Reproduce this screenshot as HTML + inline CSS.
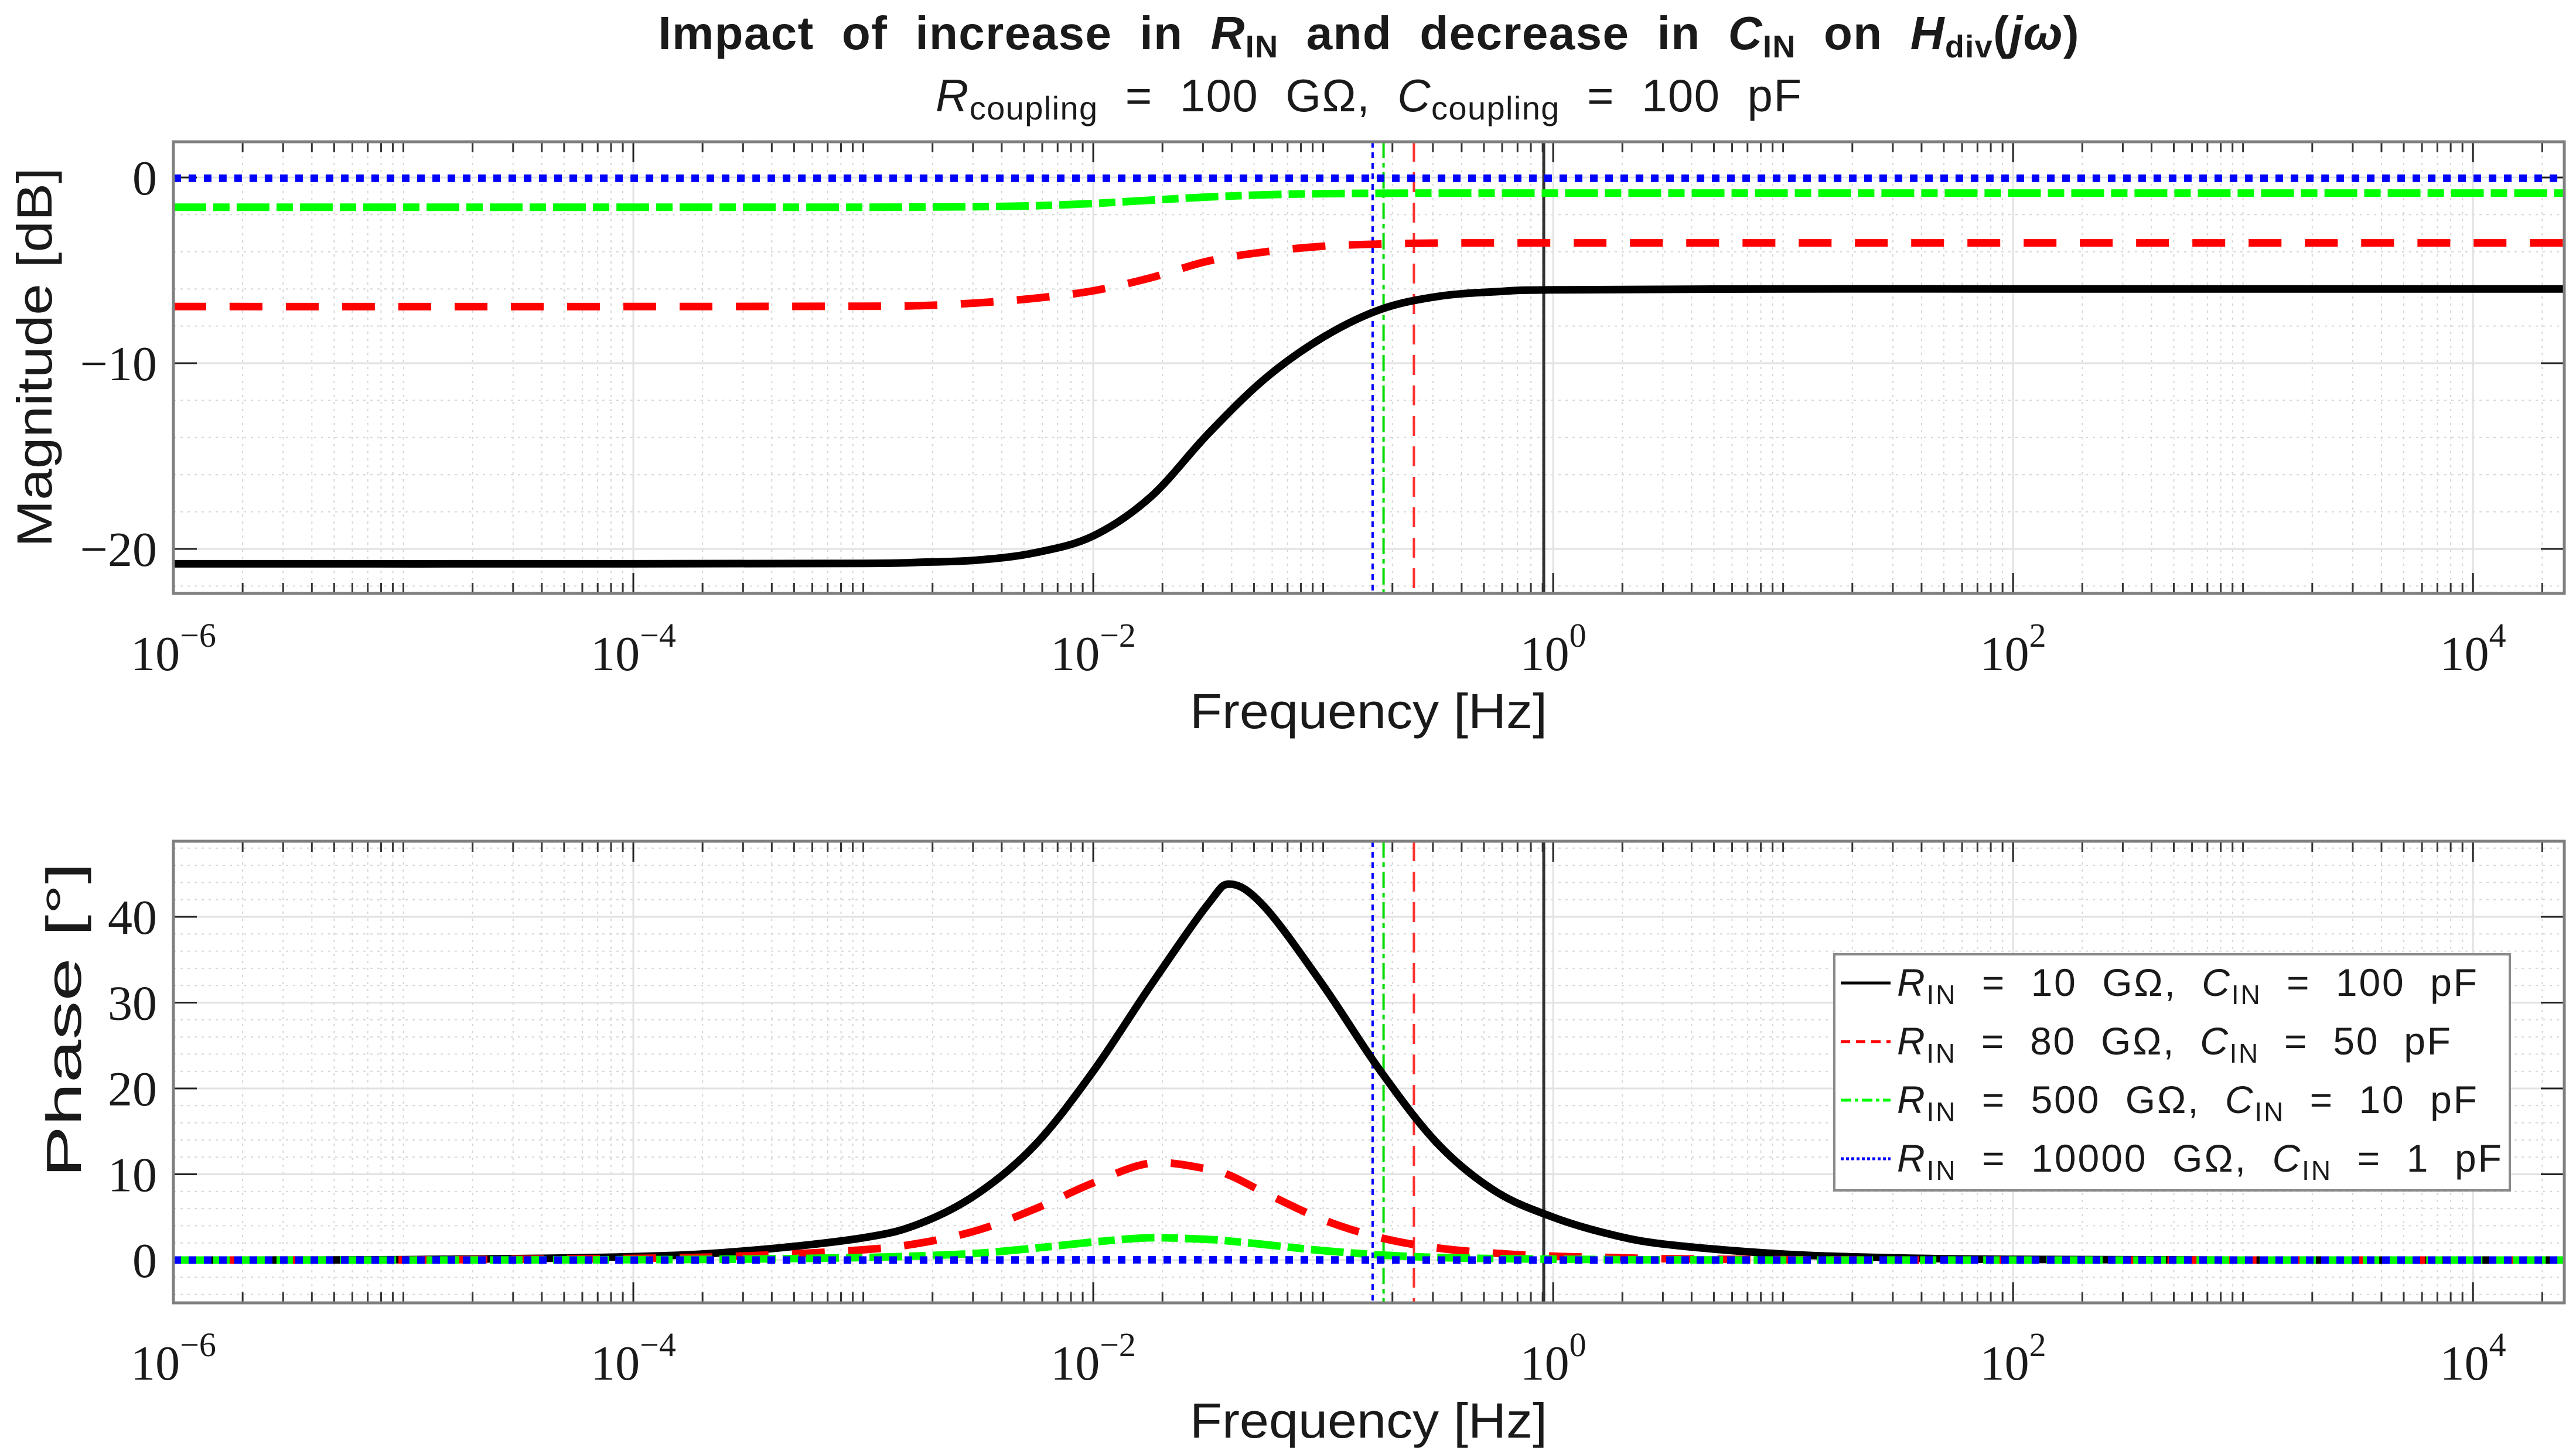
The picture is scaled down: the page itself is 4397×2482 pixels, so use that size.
<!DOCTYPE html>
<html><head><meta charset="utf-8"><style>
html,body{margin:0;padding:0;background:#fff;}
svg{display:block;}
.tick{font-family:"Liberation Serif",serif;font-size:84px;fill:#1a1a1a;}
.lab{font-family:"Liberation Sans",sans-serif;font-size:84px;fill:#1a1a1a;}
.leg{font-family:"Liberation Sans",sans-serif;font-size:66px;fill:#1a1a1a;white-space:pre;}
.pre{white-space:pre;}
</style></head><body>
<svg id="chart" xmlns="http://www.w3.org/2000/svg" width="4397" height="2482" viewBox="0 0 4397 2482">
<rect width="4397" height="2482" fill="#fff"/>
<text class="pre" x="2336" y="84" text-anchor="middle" font-family="Liberation Sans, sans-serif" font-weight="bold" font-size="80" fill="#1a1a1a" textLength="2425" lengthAdjust="spacing">Impact  of  increase  in  <tspan font-style="italic">R</tspan><tspan font-size="54" dy="14">IN</tspan><tspan dy="-14">  and  decrease  in  </tspan><tspan font-style="italic">C</tspan><tspan font-size="54" dy="14">IN</tspan><tspan dy="-14">  on  </tspan><tspan font-style="italic">H</tspan><tspan font-size="54" dy="14">div</tspan><tspan dy="-14">(</tspan><tspan font-style="italic">jω</tspan>)</text>
<text class="pre" x="2336" y="190" text-anchor="middle" font-family="Liberation Sans, sans-serif" font-size="78" fill="#1a1a1a" textLength="1478" lengthAdjust="spacing"><tspan font-style="italic">R</tspan><tspan font-size="56" dy="14">coupling</tspan><tspan dy="-14">  =  100  GΩ,  </tspan><tspan font-style="italic">C</tspan><tspan font-size="56" dy="14">coupling</tspan><tspan dy="-14">  =  100  pF</tspan></text>
<g id="topg"></g>
<g id="botg"></g>
</svg>
<script>
// ---- data ----
const xMinExp = -6, xMaxExp = 4.397;
const xTickExps = [-6, -4, -2, 0, 2, 4];
const magTicks = [0, -10, -20];
const phaseTicks = [0, 10, 20, 30, 40];
const magExp = [-6, -4, -3, -2.75, -2.5, -2.25, -2, -1.75, -1.5, -1.25, -1, -0.75, -0.5, -0.25, 0, 1, 2, 4.4];
const magBlack = [-20.8, -20.8, -20.78, -20.72, -20.6, -20.2, -19.3, -17.2, -13.8, -10.8, -8.6, -7.1, -6.4, -6.15, -6.05, -6.0, -6.0, -6.0];
const magRed = [-6.95, -6.95, -6.93, -6.9, -6.75, -6.5, -6.1, -5.4, -4.5, -4.0, -3.7, -3.58, -3.53, -3.52, -3.52, -3.52, -3.52, -3.52];
const magGreen = [-1.6, -1.6, -1.6, -1.59, -1.57, -1.52, -1.4, -1.22, -1.05, -0.93, -0.87, -0.85, -0.84, -0.84, -0.84, -0.84, -0.84, -0.84];
const magBlue = [-0.04, -0.04, -0.04, -0.04, -0.04, -0.04, -0.04, -0.04, -0.04, -0.04, -0.04, -0.04, -0.04, -0.04, -0.04, -0.04, -0.04, -0.04];
const phExp = [-6, -5, -4, -3.5, -3, -2.75, -2.5, -2.25, -2, -1.75, -1.5, -1.4, -1.25, -1, -0.75, -0.5, -0.25, 0, 0.25, 0.5, 1, 1.5, 2, 3, 4.4];
const phBlack = [0, 0.05, 0.4, 1.1, 2.6, 4.3, 7.8, 13.5, 22.0, 32.0, 41.5, 43.8, 41.0, 32.0, 22.0, 13.5, 8.0, 5.0, 3.0, 1.8, 0.7, 0.25, 0.08, 0, 0];
const phRed = [0, 0.02, 0.2, 0.5, 1.2, 2.0, 3.5, 6.0, 9.0, 11.3, 10.6, 9.8, 7.8, 4.7, 2.6, 1.4, 0.8, 0.45, 0.3, 0.15, 0.05, 0.01, 0, 0, 0];
const phGreen = [0, 0, 0.05, 0.12, 0.3, 0.5, 0.8, 1.4, 2.1, 2.6, 2.4, 2.2, 1.8, 1.1, 0.6, 0.3, 0.18, 0.1, 0.06, 0.03, 0, 0, 0, 0, 0];
const phBlue = [0, 0, 0, 0, 0, 0, 0.01, 0.02, 0.03, 0.04, 0.04, 0.04, 0.03, 0.02, 0.01, 0, 0, 0, 0, 0, 0, 0, 0, 0, 0];
const vlineFreqs = [0.164, 0.183, 0.248, 0.91];
const legendLabels = [["10", "100"], ["80", "50"], ["500", "10"], ["10000", "1"]];

// ---- layout ----
const NS = "http://www.w3.org/2000/svg";
const L = 296, R = 4377;
const xs = e => L + (e - xMinExp) / (xMaxExp - xMinExp) * (R - L);
const axTop = {g: document.getElementById('topg'), t: 242, b: 1013, y: v => 303 - v * 31.7, min: -22.4, max: 1.9, minorStep: 2, ticks: magTicks, name: 'magnitude'};
const axBot = {g: document.getElementById('botg'), t: 1436, b: 2224, y: v => 2151 - v * 14.65, min: -5, max: 48.8, minorStep: 2, ticks: phaseTicks, name: 'phase'};
function mk(tag, attrs, parent) {
  const el = document.createElementNS(NS, tag);
  for (const k in attrs) el.setAttribute(k, attrs[k]);
  parent.appendChild(el);
  return el;
}
function smoothPath(px, py) {
  let d = 'M' + px[0].toFixed(1) + ',' + py[0].toFixed(1);
  for (let i = 0; i < px.length - 1; i++) {
    const x0 = px[Math.max(i - 1, 0)], y0 = py[Math.max(i - 1, 0)];
    const x1 = px[i], y1 = py[i], x2 = px[i + 1], y2 = py[i + 1];
    const x3 = px[Math.min(i + 2, px.length - 1)], y3 = py[Math.min(i + 2, px.length - 1)];
    const c1x = x1 + (x2 - x0) / 6, c1y = y1 + (y2 - y0) / 6;
    const c2x = x2 - (x3 - x1) / 6, c2y = y2 - (y3 - y1) / 6;
    d += ' C' + c1x.toFixed(1) + ',' + c1y.toFixed(1) + ' ' + c2x.toFixed(1) + ',' + c2y.toFixed(1) + ' ' + x2.toFixed(1) + ',' + y2.toFixed(1);
  }
  return d;
}
const styles = [
  {c: '#000000', dash: 'none', name: 'black'},
  {c: '#ff0000', dash: '56,40', name: 'red'},
  {c: '#00ff00', dash: '56,12,28,12', name: 'green'},
  {c: '#0000ff', dash: '13,13', name: 'blue'}
];
const vStyles = [
  {c: '#0000ff', dash: '10,8', w: 4},
  {c: '#00dd00', dash: '28,8,8,8', w: 4},
  {c: '#ff3030', dash: '34,18', w: 4},
  {c: '#333333', dash: 'none', w: 5}
];

function drawAxes(ax, series, exps) {
  const g = ax.g;
  const clipId = 'clip-' + ax.name;
  const cp = mk('clipPath', {id: clipId}, g);
  mk('rect', {x: L, y: ax.t, width: R - L, height: ax.b - ax.t}, cp);
  for (let v = Math.ceil(ax.min / ax.minorStep) * ax.minorStep; v <= ax.max; v += ax.minorStep) {
    if (ax.ticks.includes(v)) continue;
    const gl = mk('line', {x1: L, x2: R, y1: ax.y(v), y2: ax.y(v), stroke: '#d6d6d6', 'stroke-width': 2, 'stroke-dasharray': '4,8'}, g);
    
    
  }
  for (let n = -6; n <= 4; n++) {
    for (let k = 1; k <= 9; k++) {
      const e = n + Math.log10(k);
      if (e > xMaxExp) continue;
      const x = xs(e);
      const major = (k === 1 && xTickExps.includes(n));
      if (!major) {
        const gl = mk('line', {x1: x, x2: x, y1: ax.t, y2: ax.b, stroke: '#d6d6d6', 'stroke-width': 2, 'stroke-dasharray': '4,8'}, g);
        
        
        mk('line', {x1: x, x2: x, y1: ax.b, y2: ax.b - 18, stroke: '#333', 'stroke-width': 3}, g);
        mk('line', {x1: x, x2: x, y1: ax.t, y2: ax.t + 18, stroke: '#333', 'stroke-width': 3}, g);
      }
    }
  }
  xTickExps.forEach(e => {
    const x = xs(e);
    const gl = mk('line', {x1: x, x2: x, y1: ax.t, y2: ax.b, stroke: '#e2e2e2', 'stroke-width': 3}, g);
    
    
    mk('line', {x1: x, x2: x, y1: ax.b, y2: ax.b - 35, stroke: '#222', 'stroke-width': 3}, g);
    mk('line', {x1: x, x2: x, y1: ax.t, y2: ax.t + 35, stroke: '#222', 'stroke-width': 3}, g);
    const t = mk('text', {x: x, y: ax.b + 131, 'text-anchor': 'middle', class: 'tick'}, g);
    
    
    t.innerHTML = '10<tspan font-size="58" dy="-40">' + (e < 0 ? '−' + (-e) : e) + '</tspan>';
  });
  ax.ticks.forEach(v => {
    const y = ax.y(v);
    const gl = mk('line', {x1: L, x2: R, y1: y, y2: y, stroke: '#e2e2e2', 'stroke-width': 3}, g);
    
    
    mk('line', {x1: L, x2: L + 40, y1: y, y2: y, stroke: '#222', 'stroke-width': 3}, g);
    mk('line', {x1: R, x2: R - 40, y1: y, y2: y, stroke: '#222', 'stroke-width': 3}, g);
    const t = mk('text', {x: 268, y: y + 29, 'text-anchor': 'end', class: 'tick'}, g);
    
    
    t.textContent = v < 0 ? '−' + (-v) : String(v);
  });
  const cg = mk('g', {'clip-path': 'url(#' + clipId + ')'}, g);
  vlineFreqs.forEach((f, i) => {
    const x = xs(Math.log10(f));
    const vl = mk('line', {x1: x, x2: x, y1: ax.t, y2: ax.b, stroke: vStyles[i].c, 'stroke-width': vStyles[i].w, 'stroke-dasharray': vStyles[i].dash}, cg);
    
    
  });
  series.forEach((s, i) => {
    const px = exps.map(xs), py = s.map(ax.y);
    const p = mk('path', {d: smoothPath(px, py), fill: 'none', stroke: styles[i].c, 'stroke-width': 13, 'stroke-dasharray': styles[i].dash, 'stroke-linejoin': 'round'}, cg);
    
    
  });
  const fr = mk('rect', {x: L, y: ax.t, width: R - L, height: ax.b - ax.t, fill: 'none', stroke: '#7f7f7f', 'stroke-width': 5}, g);
  
  
  const xl = mk('text', {x: 2336, y: ax.b + 230, 'text-anchor': 'middle', class: 'lab', textLength: 610, lengthAdjust: 'spacingAndGlyphs'}, g);
  
  
  xl.textContent = 'Frequency [Hz]';
}
drawAxes(axTop, [magBlack, magRed, magGreen, magBlue], magExp);
drawAxes(axBot, [phBlack, phRed, phGreen, phBlue], phExp);

const yl1 = mk('text', {x: 0, y: 0, transform: 'translate(88,610) rotate(-90)', 'text-anchor': 'middle', class: 'lab', textLength: 648, lengthAdjust: 'spacingAndGlyphs'}, axTop.g);


yl1.textContent = 'Magnitude [dB]';
const yl2 = mk('text', {x: 0, y: 0, transform: 'translate(138,1741) rotate(-90)', 'text-anchor': 'middle', class: 'lab', textLength: 538, lengthAdjust: 'spacingAndGlyphs'}, axBot.g);


yl2.textContent = 'Phase [°]';

const lg = mk('g', {}, axBot.g);


mk('rect', {x: 3131, y: 1629, width: 1153, height: 403, fill: '#fff', stroke: '#8a8a8a', 'stroke-width': 4}, lg);
const legY = [1678, 1778, 1878, 1978];
const legEnd = [4228, 4183, 4228, 4270];
legendLabels.forEach((lab, i) => {
  const y = legY[i];
  const ln = mk('line', {x1: 3142, x2: 3227, y1: y, y2: y, stroke: styles[i].c, 'stroke-width': 5, 'stroke-dasharray': styles[i].dash === 'none' ? 'none' : (i === 1 ? '16,10' : i === 2 ? '18,6,6,6' : '5,4')}, lg);
  
  
  const t = mk('text', {x: 3238, y: y + 22, class: 'leg', textLength: legEnd[i] - 3238, lengthAdjust: 'spacing'}, lg);
  
  
  t.innerHTML = '<tspan font-style="italic">R</tspan><tspan font-size="46" dy="14">IN</tspan><tspan dy="-14">  =  ' + lab[0] + '  GΩ,  </tspan><tspan font-style="italic">C</tspan><tspan font-size="46" dy="14">IN</tspan><tspan dy="-14">  =  ' + lab[1] + '  pF</tspan>';
});
</script>
</body></html>
